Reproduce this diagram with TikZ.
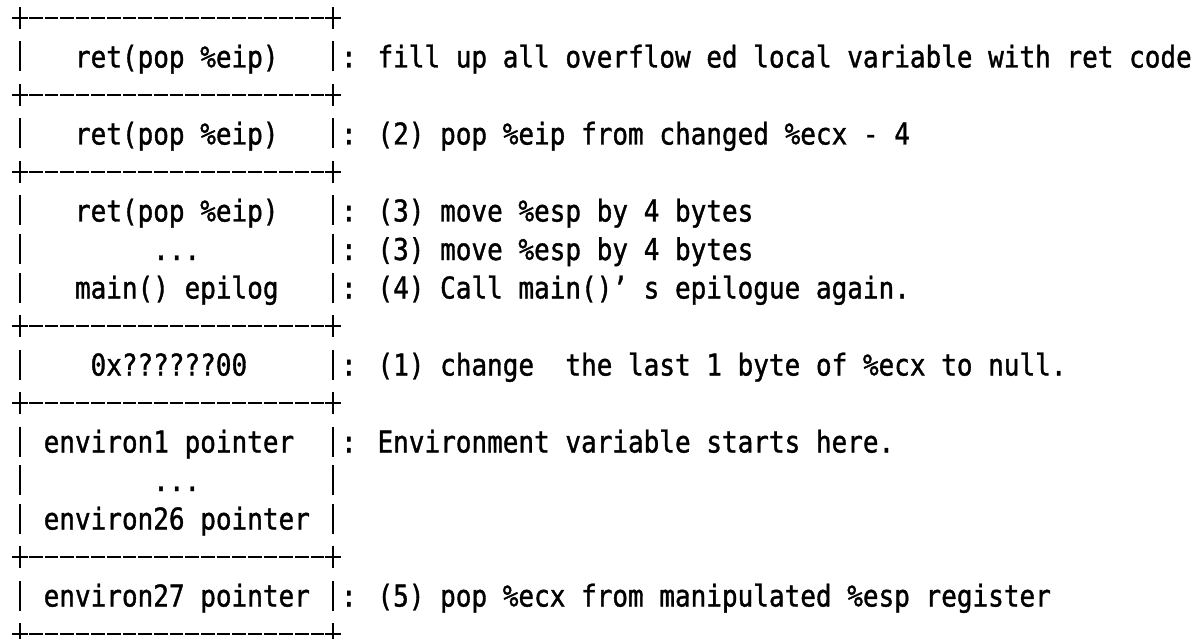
\documentclass[tikz,border=0pt]{standalone}
\usepackage{fontspec}
\newfontfamily\asciifont[FakeStretch=0.867,FakeBold=1.2]{DejaVu Sans Mono}
\begin{document}
\begin{tikzpicture}[x=1pt,y=-1pt,
  cell/.style={anchor=base west, inner sep=0pt, text=black,
               font=\asciifont\fontsize{30}{30}\selectfont},
  rule/.style={line width=2.6pt, dash pattern=on 13.65pt off 2pt, dash phase=14.65pt},
  bar/.style={line width=2.7pt},
  tick/.style={line width=2.7pt}]
\useasboundingbox (0,0) rectangle (1191,639);

% character grid: column c centred at x = 20 + 15.65c, line k centred at y = 18 + 38.5k
% horizontal separators  +-------------------+
\foreach \k in {0,2,4,8,10,14,16}{
  \pgfmathsetmacro\yy{18+38.5*\k}
  \draw[rule] (12.2,\yy) -- (340.8,\yy);
  \foreach \xx in {20,333}{
    \draw[tick] (\xx-7.8,\yy) -- (\xx+7.8,\yy);
    \draw[tick] (\xx,\yy-11) -- (\xx,\yy+11);
  }
}
% vertical walls  |   ...   |
\foreach \k in {1,3,5,6,7,9,11,12,13,15}{
  \pgfmathsetmacro\yy{18+38.5*\k}
  \draw[bar] (20,\yy-15) -- (20,\yy+15);
  \draw[bar] (333,\yy-15) -- (333,\yy+15);
}

% stack cell contents
\node[cell] (c1)  at (74.8,67.5)  {ret(pop \%eip)};
\node[cell] (c3)  at (74.8,144.5) {ret(pop \%eip)};
\node[cell] (c5)  at (74.8,221.5) {ret(pop \%eip)};
\node[cell] (c6)  at (153.0,260)  {...};
\node[cell] (c7)  at (74.8,298.5) {main() epilog};
\node[cell] (c9)  at (90.4,375.5) {0x??????00};
\node[cell] (c11) at (43.5,452.5) {environ1 pointer};
\node[cell] (c12) at (153.0,491)  {...};
\node[cell] (c13) at (43.5,529.5) {environ26 pointer};
\node[cell] (c15) at (43.5,606.5) {environ27 pointer};

% annotations
\node[cell] (n1)  at (340.8,67.5)  {: fill up all overflow ed local variable with ret code};
\node[cell] (n3)  at (340.8,144.5) {: (2) pop \%eip from changed \%ecx - 4};
\node[cell] (n5)  at (340.8,221.5) {: (3) move \%esp by 4 bytes};
\node[cell] (n6)  at (340.8,260)   {: (3) move \%esp by 4 bytes};
\node[cell] (n7)  at (340.8,298.5) {: (4) Call main()’ s epilogue again.};
\node[cell] (n9)  at (340.8,375.5) {: (1) change~~the last 1 byte of \%ecx to null.};
\node[cell] (n11) at (340.8,452.5) {: Environment variable starts here.};
\node[cell] (n15) at (340.8,606.5) {: (5) pop \%ecx from manipulated \%esp register};
\end{tikzpicture}
\end{document}
